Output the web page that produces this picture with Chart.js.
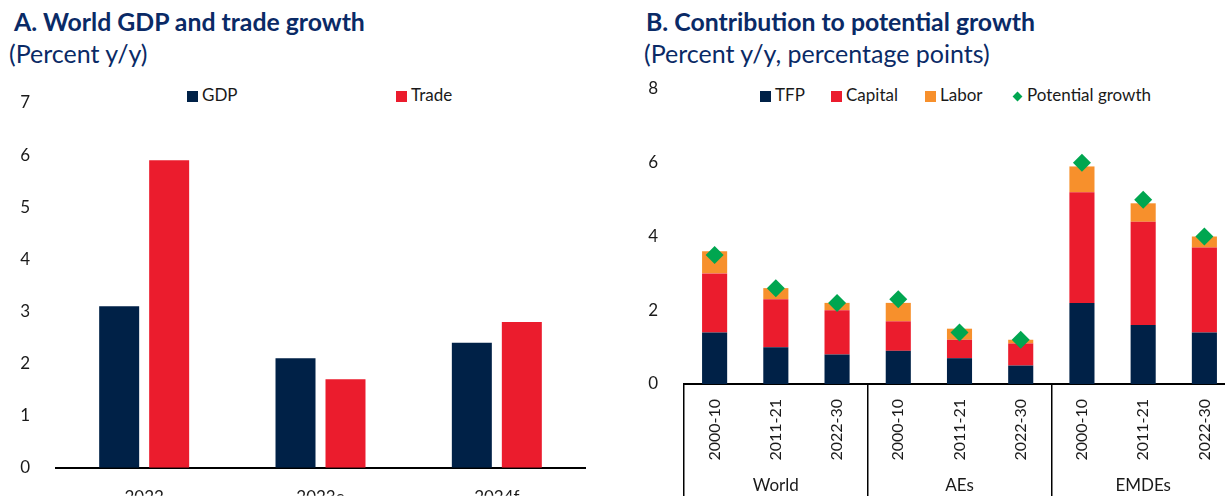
<!DOCTYPE html>
<html>
<head>
<meta charset="utf-8">
<script src="https://cdn.jsdelivr.net/npm/chart.js@4.4.0/dist/chart.umd.min.js"></script>
<style>
body { margin: 0; width: 1225px; height: 496px; overflow: hidden; position: relative; background: #fff; font-family: Lato, sans-serif; }
.title { position: absolute; font-weight: 700; font-size: 24.8px; line-height: 1.2; color: #0a2a66; white-space: nowrap; }
.sub { position: absolute; font-size: 25px; line-height: 1.2; color: #0a2a66; white-space: nowrap; }
.lg { position: absolute; top: 85px; padding-left: 15px; font-size: 17px; line-height: 20px; color: #1a1a1a; white-space: nowrap; }
.lg i { position: absolute; left: 0; top: 6px; width: 11px; height: 11px; }
.lg i.dia { left: 1.5px; top: 7.5px; width: 7px; height: 7px; transform: rotate(45deg); }
canvas { position: absolute; top: 0; }
</style>
</head>
<body>

<div class="title" style="left:14px;top:7px">A. World GDP and trade growth</div>
<div class="sub" style="left:9px;top:38px">(Percent y/y)</div>
<div class="lg" style="left:187px"><i id="swGdp"></i>GDP</div>
<div class="lg" style="left:396px"><i id="swTrade"></i>Trade</div>
<canvas id="chartA" width="620" height="496" style="left:0"></canvas>

<div class="title" style="left:646px;top:7px">B. Contribution to potential growth</div>
<div class="sub" style="left:644px;top:38px">(Percent y/y, percentage points)</div>
<div class="lg" style="left:760px"><i id="swTfp"></i>TFP</div>
<div class="lg" style="left:831px"><i id="swCap"></i>Capital</div>
<div class="lg" style="left:925px"><i id="swLab"></i>Labor</div>
<div class="lg" style="left:1012px"><i id="swPot" class="dia"></i>Potential growth</div>
<canvas id="chartB" width="625" height="496" style="left:625px"></canvas>

<script>
// Panel A: world GDP and trade
var years = ['2022', '2023e', '2024f'];
var gdpGrowth = [3.1, 2.1, 2.4];
var tradeGrowth = [5.9, 1.7, 2.8];

// Panel B: contributions to potential growth
var periods = ['2000-10', '2011-21', '2022-30', '2000-10', '2011-21', '2022-30', '2000-10', '2011-21', '2022-30'];
var groups = ['World', 'AEs', 'EMDEs'];
var tfp = [1.4, 1.0, 0.8, 0.9, 0.7, 0.5, 2.2, 1.6, 1.4];
var capital = [1.6, 1.3, 1.2, 0.8, 0.5, 0.6, 3.0, 2.8, 2.3];
var labor = [0.6, 0.3, 0.2, 0.5, 0.3, 0.1, 0.7, 0.5, 0.3];
var potential = [3.5, 2.6, 2.2, 2.3, 1.4, 1.2, 6.0, 5.0, 4.0];

var navy = '#002147';
var red = '#eb1c2d';
var orange = '#f7902c';
var green = '#00a650';

document.getElementById('swGdp').style.background = navy;
document.getElementById('swTrade').style.background = red;
document.getElementById('swTfp').style.background = navy;
document.getElementById('swCap').style.background = red;
document.getElementById('swLab').style.background = orange;
document.getElementById('swPot').style.background = green;

Chart.defaults.font.family = 'Lato';
Chart.defaults.font.size = 17;
Chart.defaults.color = '#1a1a1a';

var chartA = new Chart(document.getElementById('chartA'), {
    type: 'bar',
    data: {
        labels: years,
        datasets: [{
            label: 'GDP',
            data: gdpGrowth,
            backgroundColor: navy,
            categoryPercentage: 0.567,
            barPercentage: 0.8
        }, {
            label: 'Trade',
            data: tradeGrowth,
            backgroundColor: red,
            categoryPercentage: 0.567,
            barPercentage: 0.8
        }]
    },
    options: {
        responsive: false,
        animation: false,
        layout: { padding: { top: 103, right: 35, left: 0, bottom: 0 } },
        plugins: { legend: { display: false }, tooltip: { enabled: false } },
        scales: {
            x: {
                grid: { display: false },
                border: { color: '#000', width: 2 },
                ticks: { padding: 12 },
                afterFit: function (s) { s.height = 28; }
            },
            y: {
                min: 0,
                max: 7,
                ticks: { stepSize: 1, padding: 18 },
                grid: { display: false },
                border: { display: false },
                afterFit: function (s) { s.width = 56; }
            }
        }
    }
});

// only the edges of each country group get a separator
function groupEdge(ctx) {
    return (ctx.type === 'scale' || ctx.index % 3 === 0) ? '#000' : 'rgba(0,0,0,0)';
}

var chartB = new Chart(document.getElementById('chartB'), {
    type: 'bar',
    data: {
        labels: periods,
        datasets: [{
            type: 'line',
            label: 'Potential growth',
            data: potential,
            showLine: false,
            pointStyle: 'rectRot',
            pointRadius: 9,
            pointBackgroundColor: green,
            pointBorderWidth: 0,
            stack: 'pg',
            order: -1
        }, {
            label: 'TFP',
            data: tfp,
            backgroundColor: navy,
            stack: 'f'
        }, {
            label: 'Capital',
            data: capital,
            backgroundColor: red,
            stack: 'f'
        }, {
            label: 'Labor',
            data: labor,
            backgroundColor: orange,
            stack: 'f'
        }]
    },
    options: {
        responsive: false,
        animation: false,
        datasets: { bar: { categoryPercentage: 1, barPercentage: 0.41 } },
        layout: { padding: { top: 89, right: 15, left: 0, bottom: 0 } },
        plugins: { legend: { display: false }, tooltip: { enabled: false } },
        scales: {
            x: {
                stacked: true,
                grid: {
                    drawOnChartArea: false,
                    tickLength: 80,
                    lineWidth: 1.5,
                    color: groupEdge,
                    tickColor: groupEdge
                },
                border: { color: '#000', width: 2 },
                ticks: { minRotation: 90, maxRotation: 90, autoSkip: false, padding: -65, font: { size: 16 } },
                afterFit: function (s) { s.height = 80; }
            },
            x2: {
                type: 'category',
                labels: groups,
                position: 'bottom',
                weight: 1,
                offset: true,
                grid: { offset: true, drawOnChartArea: false, tickLength: 32, lineWidth: 1.5, color: '#000' },
                border: { display: false },
                ticks: { padding: -21 },
                afterFit: function (s) { s.height = 32; }
            },
            y: {
                stacked: true,
                min: 0,
                max: 8,
                ticks: { stepSize: 2, padding: 18 },
                grid: { display: false },
                border: { display: false },
                afterFit: function (s) { s.width = 59; }
            }
        }
    }
});
</script>
</body>
</html>
